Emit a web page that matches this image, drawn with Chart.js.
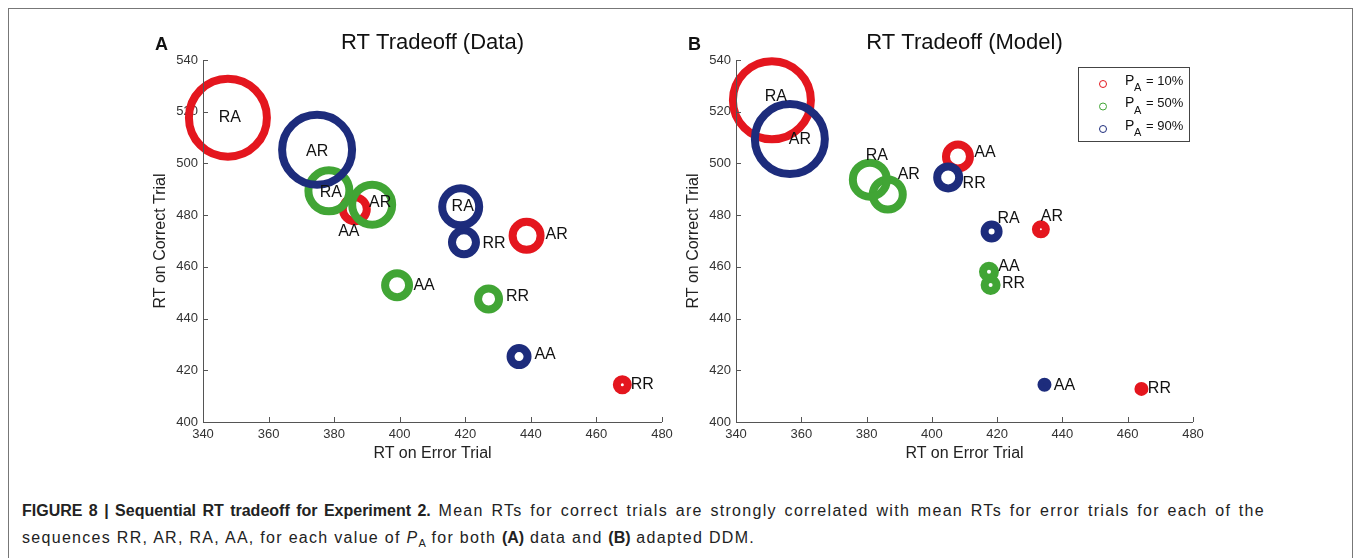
<!DOCTYPE html>
<html>
<head>
<meta charset="utf-8">
<title>RT tradeoff</title>
<script src="https://cdn.jsdelivr.net/npm/chart.js@4.4.0/dist/chart.umd.min.js"></script>
<style>
    body {
        margin: 0;
        width: 1354px;
        height: 558px;
        background: #fff;
        overflow: hidden;
        position: relative;
        font-family: "Liberation Sans", Arial, sans-serif;
    }

    #frame {
        position: absolute;
        left: 8px;
        top: 8px;
        width: 1345px;
        height: 560px;
        box-sizing: border-box;
        border: 1px solid #777;
    }

    /* bubble overflow reserves ~48px on top and right, so the canvases are padded to match */
    .panel {
        position: absolute;
        top: 10px;
        width: 572px;
        height: 460px;
    }

    #panelA { left: 140px; }
    #panelB { left: 673px; width: 570px; }

    #caption {
        position: absolute;
        left: 22px;
        top: 497px;
        width: 1243px;
        font-size: 16px;
        line-height: 27px;
        color: #222;
        white-space: nowrap;
        letter-spacing: 1.3px;
    }

    #caption .full {
        white-space: normal;
        text-align: justify;
        text-align-last: justify;
    }

    #caption b { letter-spacing: 0; }
    #caption sub { font-size: 11px; letter-spacing: 0; }
</style>
</head>
<body>
<div id="frame"></div>
<div class="panel" id="panelA"><canvas id="chartA"></canvas></div>
<div class="panel" id="panelB"><canvas id="chartB"></canvas></div>
<div id="caption">
    <div class="full"><b>FIGURE 8 | Sequential RT tradeoff for Experiment 2.</b> Mean RTs for correct trials are strongly correlated with mean RTs for error trials for each of the</div>
    <div>sequences RR, AR, RA, AA, for each value of <i>P</i><sub>A</sub> for both <b>(A)</b> data and <b>(B)</b> adapted DDM.</div>
</div>

<script>
// sequence order used by every array below
const sequences = ['RR', 'AR', 'RA', 'AA'];
const pLevels   = ['10%', '50%', '90%'];

const xTicks = [340, 360, 380, 400, 420, 440, 460, 480];
const yTicks = [400, 420, 440, 460, 480, 500, 520, 540];

// (A) data: mean RT on error trial, mean RT on correct trial, marker size
const dataErr10  = [467.9, 438.7, 347.6, 386.3];
const dataCor10  = [414.4, 472.0, 517.7, 482.3];
const dataSize10 = [9.5, 18, 43, 16];

const dataErr50  = [427.1, 391.6, 378.4, 399.2];
const dataCor50  = [447.6, 484.0, 489.4, 452.9];
const dataSize50 = [14.5, 24, 24.5, 16];

const dataErr90  = [419.6, 374.8, 418.6, 436.4];
const dataCor90  = [469.5, 505.3, 483.2, 425.3];
const dataSize90 = [16, 39, 22.5, 12.5];

// (B) adapted DDM
const modelErr10  = [464.2, 433.4, 351.0, 408.0];
const modelCor10  = [412.8, 474.5, 524.4, 502.7];
const modelSize10 = [7, 9, 43, 16];

const modelErr50  = [418.0, 386.5, 381.0, 417.5];
const modelCor50  = [453.0, 488.0, 493.7, 458.1];
const modelSize50 = [10, 19, 21, 10];

const modelErr90  = [405.0, 356.5, 418.3, 434.5];
const modelCor90  = [494.6, 509.4, 473.7, 414.4];
const modelSize90 = [15, 39, 11, 7];

const colors    = ['#e4161e', '#41a535', '#1d2c7c'];
const ringWidth = 8;
const axisColor = '#555';
const fontName  = '"Liberation Sans", Arial, sans-serif';

// where each sequence label sits relative to its ring, px
const offsetsA = [
    [[20, 0], [30, -1], [2, 0], [-6, 22]],
    [[29, -2], [8, -2], [2, 2], [27, 0]],
    [[30, 1], [0, 2], [2, 0], [26, -2]]
];
const offsetsB = [
    [[18, 0], [11, -13], [4, -4], [27, -4]],
    [[23, -1], [21, -20], [7, -24], [20, -5]],
    [[26, 6], [10, 0], [17, -13], [20, 1]]
];

function ringSet (xs, ys, sizes, k)
{
    return {
        label: 'P_A = ' + pLevels[k],
        data: xs.map((x, i) => ({x: x, y: ys[i], r: sizes[i] - ringWidth / 2})),
        borderColor: colors[k],
        // rings too small to leave a hole are drawn as solid dots
        backgroundColor: sizes.map((s) => (s <= ringWidth ? colors[k] : 'rgba(0,0,0,0)')),
        borderWidth: ringWidth,
        clip: false,
        order: 3 - k
    };
}

const insideTicks = {
    id: 'insideTicks',
    afterDraw (chart)
    {
        const ctx = chart.ctx;
        const a   = chart.chartArea;
        const sx  = chart.scales.x;
        const sy  = chart.scales.y;

        ctx.save();
        ctx.strokeStyle = axisColor;
        ctx.lineWidth   = 1;
        ctx.beginPath();
        ctx.moveTo(a.left + 0.5, a.top);
        ctx.lineTo(a.left + 0.5, a.bottom + 0.5);
        ctx.lineTo(a.right, a.bottom + 0.5);
        xTicks.forEach((v) => {
            const px = Math.round(sx.getPixelForValue(v)) + 0.5;
            ctx.moveTo(px, a.bottom);
            ctx.lineTo(px, a.bottom - 5);
        });
        yTicks.forEach((v) => {
            const py = Math.round(sy.getPixelForValue(v)) + 0.5;
            ctx.moveTo(a.left, py);
            ctx.lineTo(a.left + 5, py);
        });
        ctx.stroke();
        ctx.restore();
    }
};

const seqLabels = {
    id: 'seqLabels',
    afterDatasetsDraw (chart, args, opts)
    {
        const ctx = chart.ctx;

        ctx.save();
        ctx.font         = '16px ' + fontName;
        ctx.fillStyle    = '#111';
        ctx.textAlign    = 'center';
        ctx.textBaseline = 'middle';
        chart.data.datasets.forEach((ds, d) => {
            chart.getDatasetMeta(d).data.forEach((pt, i) => {
                const off = opts.offsets[d][i];
                ctx.fillText(sequences[i], pt.x + off[0], pt.y + off[1]);
            });
        });
        ctx.restore();
    }
};

const panelHead = {
    id: 'panelHead',
    afterDraw (chart, args, opts)
    {
        const ctx = chart.ctx;
        const a   = chart.chartArea;

        ctx.save();
        ctx.fillStyle    = '#111';
        ctx.textBaseline = 'middle';
        ctx.textAlign    = 'center';
        ctx.font         = '22px ' + fontName;
        ctx.fillText(opts.title, (a.left + a.right) / 2, a.top - 17);
        ctx.textAlign = 'left';
        ctx.font      = 'bold 18px ' + fontName;
        ctx.fillText(opts.letter, a.left - 48, a.top - 15);
        ctx.restore();
    }
};

const pLegend = {
    id: 'pLegend',
    afterDraw (chart, args, opts)
    {
        if (!opts.show) {
            return;
        }

        const ctx = chart.ctx;
        const a   = chart.chartArea;
        const bx  = a.right - 115;
        const by  = a.top + 7;

        ctx.save();
        ctx.fillStyle   = '#fff';
        ctx.strokeStyle = '#444';
        ctx.lineWidth   = 1;
        ctx.fillRect(bx, by, 111, 74);
        ctx.strokeRect(bx + 0.5, by + 0.5, 111, 74);

        ctx.textBaseline = 'middle';
        ctx.textAlign    = 'left';
        pLevels.forEach((p, k) => {
            const ry = by + 16 + k * 22.5;

            ctx.strokeStyle = colors[k];
            ctx.beginPath();
            ctx.arc(bx + 25, ry + 1, 3.5, 0, Math.PI * 2);
            ctx.stroke();

            ctx.fillStyle = '#111';
            ctx.font      = '14px ' + fontName;
            ctx.fillText('P', bx + 47, ry - 2);
            ctx.font = '11px ' + fontName;
            ctx.fillText('A', bx + 56, ry + 5);
            ctx.font = '13px ' + fontName;
            ctx.fillText('= ' + p, bx + 68, ry - 2);
        });
        ctx.restore();
    }
};

function axisOptions (min, max, title, isX)
{
    return {
        type: 'linear',
        min: min,
        max: max,
        grid: {display: false, drawTicks: false},
        border: {display: false},
        ticks: {
            stepSize: 20,
            padding: 5,
            color: '#333',
            font: {family: fontName, size: 13}
        },
        title: {
            display: true,
            text: title,
            color: '#222',
            font: {family: fontName, size: 16},
            padding: isX ? {top: 0, bottom: 7} : {top: 11, bottom: 0}
        },
        afterFit: (scale) => {
            if (isX) {
                scale.height = 48;
            } else {
                scale.width = 63;
            }
        }
    };
}

function makeChart (id, sets, offsets, title, letter, legend)
{
    return new Chart(document.getElementById(id).getContext('2d'), {
        type: 'bubble',
        data: {datasets: sets},
        options: {
            responsive: true,
            maintainAspectRatio: false,
            animation: false,
            events: [],
            layout: {padding: {top: 50, right: 50, left: 0, bottom: 0}},
            scales: {
                x: axisOptions(340, 480, 'RT on Error Trial', true),
                y: axisOptions(400, 540, 'RT on Correct Trial', false)
            },
            plugins: {
                legend: {display: false},
                tooltip: {enabled: false},
                seqLabels: {offsets: offsets},
                panelHead: {title: title, letter: letter},
                pLegend: {show: legend}
            }
        },
        plugins: [insideTicks, seqLabels, panelHead, pLegend]
    });
}

makeChart('chartA', [
    ringSet(dataErr10, dataCor10, dataSize10, 0),
    ringSet(dataErr50, dataCor50, dataSize50, 1),
    ringSet(dataErr90, dataCor90, dataSize90, 2)
], offsetsA, 'RT Tradeoff (Data)', 'A', false);

makeChart('chartB', [
    ringSet(modelErr10, modelCor10, modelSize10, 0),
    ringSet(modelErr50, modelCor50, modelSize50, 1),
    ringSet(modelErr90, modelCor90, modelSize90, 2)
], offsetsB, 'RT Tradeoff (Model)', 'B', true);
</script>
</body>
</html>
